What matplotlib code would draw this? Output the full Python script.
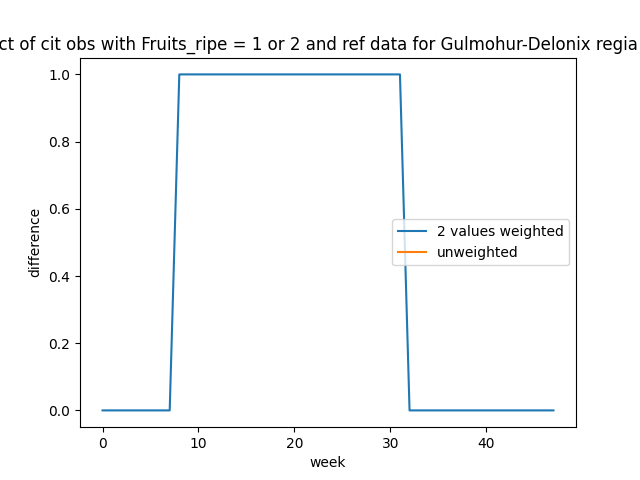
import numpy as np
import matplotlib
matplotlib.use("Agg")
import matplotlib.pyplot as plt

weeks = list(range(48))
weighted = [0]*8 + [1]*24 + [0]*16
unweighted = []  # no values drawn in the reference

fig, ax = plt.subplots(figsize=(6.4, 4.8), dpi=100)
ax.plot(weeks, weighted, label="2 values weighted")
ax.plot(unweighted, unweighted, label="unweighted")
ax.set_xlabel("week")
ax.set_ylabel("difference")
ax.set_title("Product of cit obs with Fruits_ripe = 1 or 2 and ref data for Gulmohur-Delonix regia in India")
ax.legend(loc="center right")
fig.savefig("out.png")
